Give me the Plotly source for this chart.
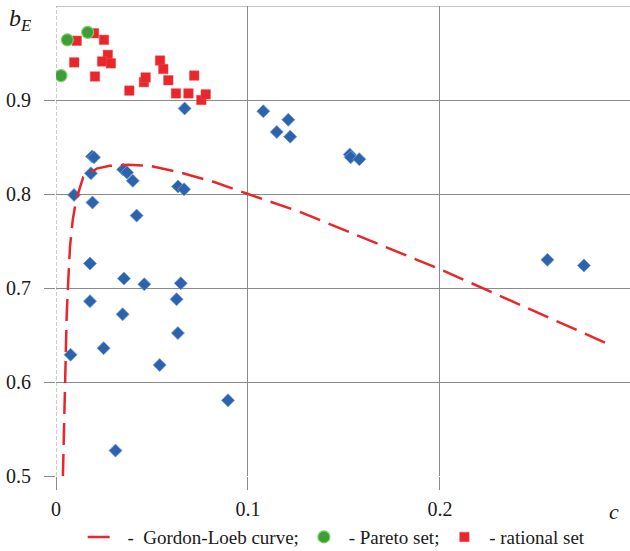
import plotly.graph_objects as go

# Gordon-Loeb curve
gl_x = [0.0036, 0.0040, 0.0047, 0.0056, 0.0064, 0.0073, 0.0087, 0.0104, 0.0125, 0.0142,
        0.0212, 0.028, 0.0375, 0.049, 0.0646, 0.082, 0.100, 0.127, 0.200, 0.259, 0.287]
gl_y = [0.500, 0.535, 0.616, 0.673, 0.708, 0.744, 0.772, 0.793, 0.807, 0.818,
        0.827, 0.830, 0.831, 0.830, 0.823, 0.813, 0.800, 0.781, 0.720, 0.667, 0.641]

# Pareto set
pareto_x = [0.0026, 0.0059, 0.0165]
pareto_y = [0.926, 0.964, 0.972]

# Rational set
rational_x = [0.0108, 0.0095, 0.0198, 0.025, 0.027, 0.024, 0.0286, 0.0203, 0.0382, 0.0458,
              0.0467, 0.0542, 0.0559, 0.0585, 0.0625, 0.069, 0.072, 0.0757, 0.078]
rational_y = [0.963, 0.940, 0.971, 0.964, 0.948, 0.941, 0.939, 0.925, 0.910, 0.919,
              0.924, 0.942, 0.933, 0.921, 0.907, 0.907, 0.926, 0.900, 0.906]

# Other points
other_x = [0.067, 0.0188, 0.0198, 0.0182, 0.0094, 0.019, 0.035, 0.037, 0.040, 0.0636, 0.0667,
           0.042, 0.0177, 0.0354, 0.046, 0.065, 0.0177, 0.0628, 0.0347, 0.0635, 0.0076,
           0.0248, 0.054, 0.0896, 0.031, 0.108, 0.115, 0.121, 0.122, 0.153, 0.1535, 0.158,
           0.256, 0.275]
other_y = [0.891, 0.840, 0.839, 0.822, 0.799, 0.791, 0.826, 0.823, 0.814, 0.808, 0.805,
           0.777, 0.726, 0.710, 0.704, 0.705, 0.686, 0.688, 0.672, 0.652, 0.629,
           0.636, 0.618, 0.5805, 0.527, 0.888, 0.866, 0.879, 0.861, 0.842, 0.839, 0.837,
           0.730, 0.724]

x_ticks = [0, 0.1, 0.2]
x_labels = ["0", "0.1", "0.2"]
y_ticks = [0.5, 0.6, 0.7, 0.8, 0.9]
y_labels = ["0.5", "0.6", "0.7", "0.8", "0.9"]

SERIF = "Liberation Serif"
GRID = "#8a8a8a"

fig = go.Figure()
fig.add_trace(go.Scatter(x=other_x, y=other_y, mode="markers", showlegend=False,
                         marker=dict(symbol="diamond", size=10, color="#2d63ad",
                                     line=dict(color="#6b9bd8", width=0.8))))
fig.add_trace(go.Scatter(x=gl_x, y=gl_y, mode="lines", name=" -  Gordon-Loeb curve;",
                         legendrank=1,
                         line=dict(color="#e8262b", width=2.5, dash="22px,9px")))
fig.add_trace(go.Scatter(x=rational_x, y=rational_y, mode="markers", name=" - rational set",
                         legendrank=3,
                         marker=dict(symbol="square", size=9.5, color="#e8262b",
                                     line=dict(color="#f05050", width=0.5))))
fig.add_trace(go.Scatter(x=pareto_x, y=pareto_y, mode="markers", name=" - Pareto set;",
                         legendrank=2,
                         marker=dict(symbol="circle", size=12, color="#3d9e35",
                                     line=dict(color="#7ccf64", width=1.2))))

fig.update_layout(
    width=630, height=551,
    margin=dict(l=56, r=0, t=6, b=75, autoexpand=False),
    paper_bgcolor="white", plot_bgcolor="white",
    font=dict(family=SERIF, size=19, color="#1a1a1a"),
    xaxis=dict(range=[0, 0.299], tickvals=x_ticks, ticktext=x_labels,
               showgrid=True, gridcolor=GRID, gridwidth=1, zeroline=False,
               ticks="outside", ticklen=13, tickcolor=GRID, showline=False,
               ticklabelstandoff=2, automargin=False,
               tickfont=dict(family=SERIF, size=20)),
    yaxis=dict(range=[0.5, 1.0], tickvals=y_ticks, ticktext=y_labels,
               showgrid=True, gridcolor=GRID, gridwidth=1, zeroline=False,
               ticks="outside", ticklen=11, tickcolor=GRID, showline=False,
               ticklabelstandoff=9, automargin=False,
               tickfont=dict(family=SERIF, size=20)),
    legend=dict(orientation="h", x=0.489, xanchor="center", y=-0.13, yanchor="middle",
                font=dict(family=SERIF, size=19), traceorder="normal",
                bgcolor="rgba(0,0,0,0)",
                itemwidth=30, tracegroupgap=0),
    annotations=[
        dict(text="<i>b<sub>E</sub></i>", xref="paper", yref="paper", x=-0.085, y=0.97,
             xanchor="left", yanchor="middle", showarrow=False,
             font=dict(family=SERIF, size=24)),
        dict(text="<i>c</i>", xref="paper", yref="paper", x=0.972, y=-0.075,
             xanchor="center", yanchor="middle", showarrow=False,
             font=dict(family=SERIF, size=22)),
    ],
    shapes=[
        dict(type="line", xref="paper", yref="y", x0=0, x1=1, y0=1.0, y1=1.0,
             line=dict(color=GRID, width=1)),
        dict(type="line", xref="x", yref="paper", x0=0, x1=0, y0=0, y1=1,
             line=dict(color="#9a9a9a", width=1, dash="4px,2px")),
    ],
)

fig.write_html("out.html")
